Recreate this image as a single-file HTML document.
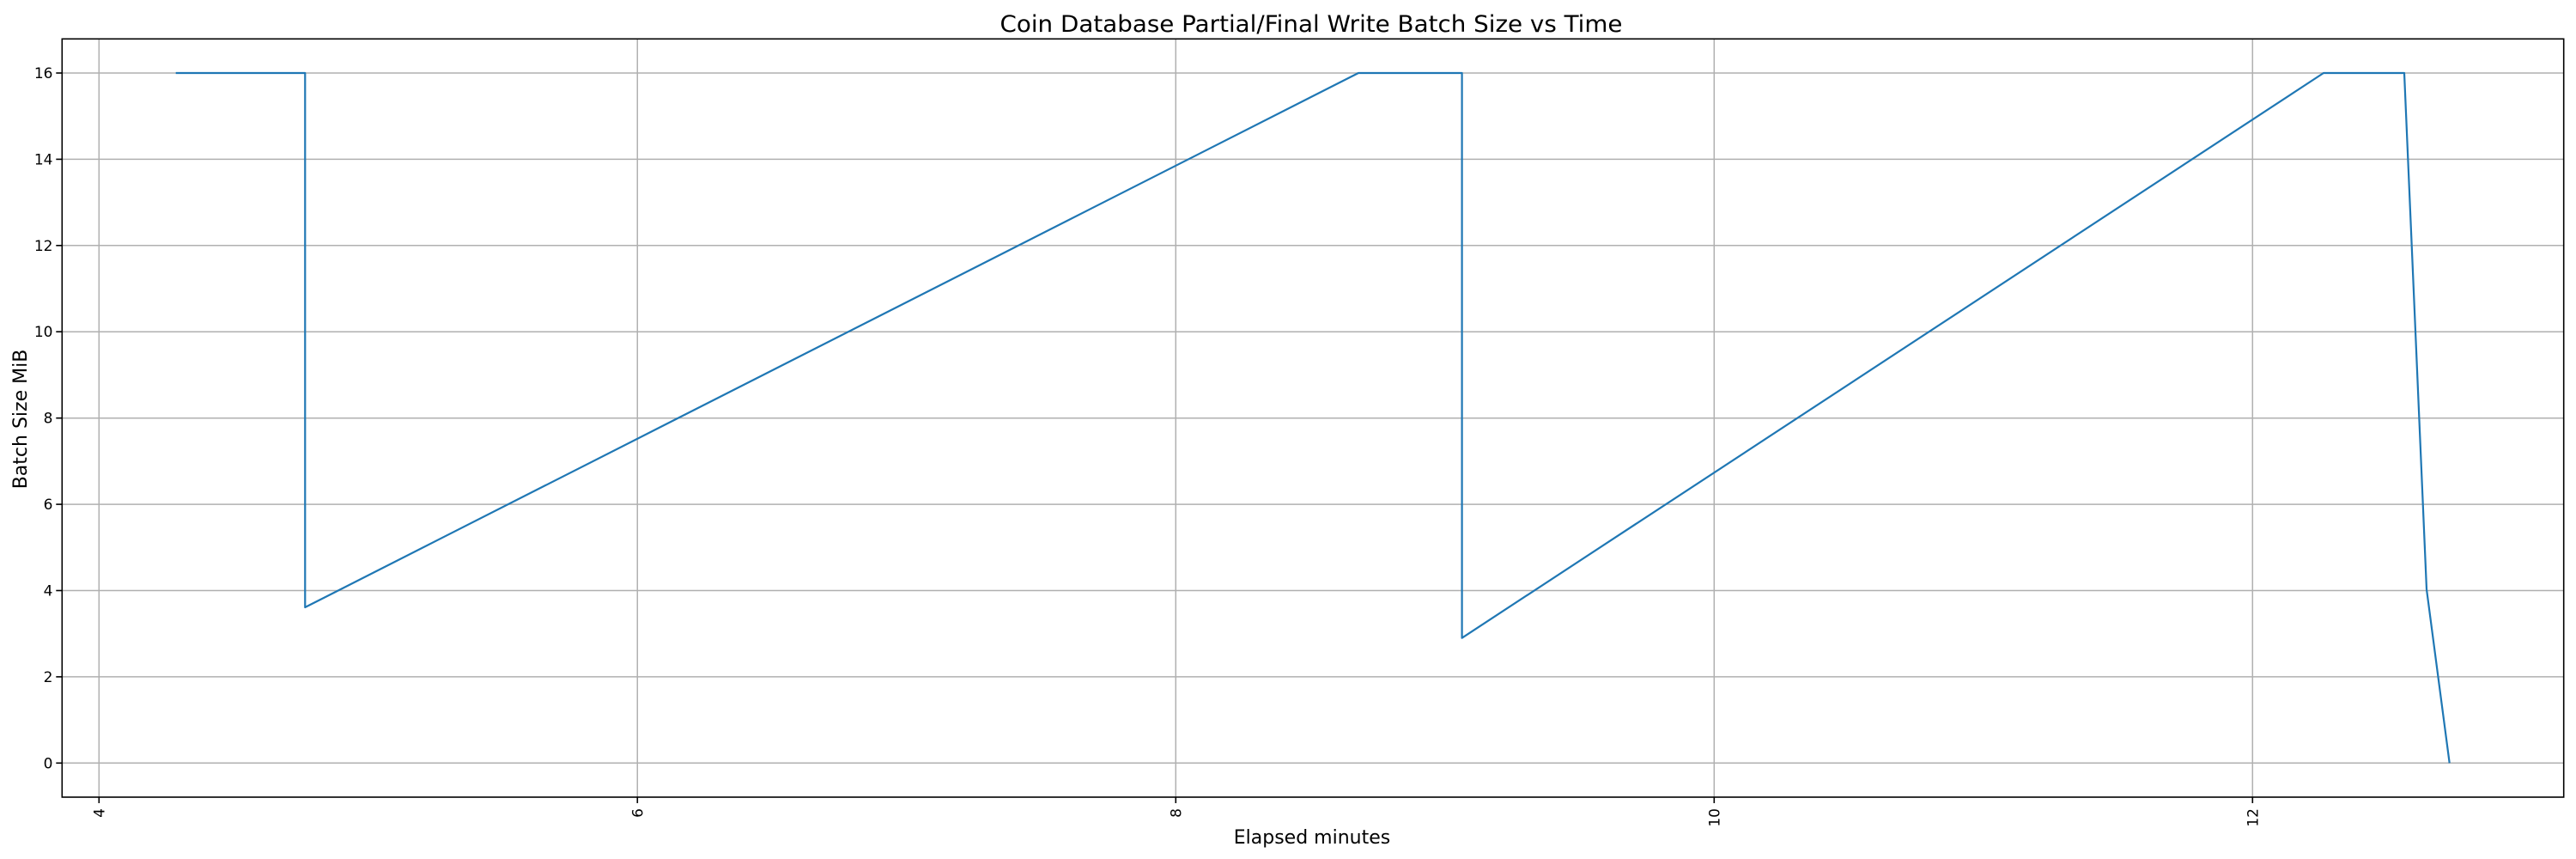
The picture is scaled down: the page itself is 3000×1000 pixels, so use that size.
<!DOCTYPE html>
<html><head><meta charset="utf-8"><style>html,body{margin:0;padding:0;background:#fff}svg{display:block}</style></head>
<body>
<svg width="3000" height="1000" xmlns="http://www.w3.org/2000/svg" font-family="'DejaVu Sans','Liberation Sans',sans-serif">
<rect width="3000" height="1000" fill="#fff"/>
<g stroke="#b0b0b0" stroke-width="1.5">
<line x1="115.3" y1="45.3" x2="115.3" y2="928"/>
<line x1="742.3" y1="45.3" x2="742.3" y2="928"/>
<line x1="1369.3" y1="45.3" x2="1369.3" y2="928"/>
<line x1="1996.3" y1="45.3" x2="1996.3" y2="928"/>
<line x1="2623.3" y1="45.3" x2="2623.3" y2="928"/>
<line x1="72.3" y1="888.3" x2="2985.7" y2="888.3"/>
<line x1="72.3" y1="787.9" x2="2985.7" y2="787.9"/>
<line x1="72.3" y1="687.5" x2="2985.7" y2="687.5"/>
<line x1="72.3" y1="587.1" x2="2985.7" y2="587.1"/>
<line x1="72.3" y1="486.7" x2="2985.7" y2="486.7"/>
<line x1="72.3" y1="386.2" x2="2985.7" y2="386.2"/>
<line x1="72.3" y1="285.8" x2="2985.7" y2="285.8"/>
<line x1="72.3" y1="185.4" x2="2985.7" y2="185.4"/>
<line x1="72.3" y1="85" x2="2985.7" y2="85"/>
</g>
<polyline fill="none" stroke="#1f77b4" stroke-width="2.2" stroke-linejoin="round"
points="204.7,85 355.3,85 355.3,707 1582,85 1702.6,85 1702.6,742.7 2706,85 2800,85 2826,686 2852.7,888.3"/>
<rect x="72.3" y="45.3" width="2913.4" height="882.7" fill="none" stroke="#000" stroke-width="1.6"/>
<g stroke="#000" stroke-width="1.6">
<line x1="115.3" y1="928" x2="115.3" y2="935"/>
<line x1="742.3" y1="928" x2="742.3" y2="935"/>
<line x1="1369.3" y1="928" x2="1369.3" y2="935"/>
<line x1="1996.3" y1="928" x2="1996.3" y2="935"/>
<line x1="2623.3" y1="928" x2="2623.3" y2="935"/>
<line x1="65.3" y1="888.3" x2="72.3" y2="888.3"/>
<line x1="65.3" y1="787.9" x2="72.3" y2="787.9"/>
<line x1="65.3" y1="687.5" x2="72.3" y2="687.5"/>
<line x1="65.3" y1="587.1" x2="72.3" y2="587.1"/>
<line x1="65.3" y1="486.7" x2="72.3" y2="486.7"/>
<line x1="65.3" y1="386.2" x2="72.3" y2="386.2"/>
<line x1="65.3" y1="285.8" x2="72.3" y2="285.8"/>
<line x1="65.3" y1="185.4" x2="72.3" y2="185.4"/>
<line x1="65.3" y1="85" x2="72.3" y2="85"/>
</g>
<g font-size="17" fill="#000" text-anchor="end">
<text x="61.5" y="894.5">0</text>
<text x="61.5" y="794">2</text>
<text x="61.5" y="693.5">4</text>
<text x="61.5" y="593">6</text>
<text x="61.5" y="492.5">8</text>
<text x="61.5" y="392">10</text>
<text x="61.5" y="292">12</text>
<text x="61.5" y="191.5">14</text>
<text x="61.5" y="91">16</text>
</g>
<g font-size="17" fill="#000" text-anchor="end">
<text transform="translate(121.5,941) rotate(-90)">4</text>
<text transform="translate(748.5,941) rotate(-90)">6</text>
<text transform="translate(1375.5,941) rotate(-90)">8</text>
<text transform="translate(2002.5,941) rotate(-90)">10</text>
<text transform="translate(2629.5,941) rotate(-90)">12</text>
</g>
<text x="1528" y="982" font-size="22" text-anchor="middle" fill="#000">Elapsed minutes</text>
<text transform="translate(31,488) rotate(-90)" font-size="22" text-anchor="middle" fill="#000">Batch Size MiB</text>
<text x="1527" y="37" font-size="27" text-anchor="middle" fill="#000" textLength="725" lengthAdjust="spacingAndGlyphs">Coin Database Partial/Final Write Batch Size vs Time</text>
</svg>
</body></html>
